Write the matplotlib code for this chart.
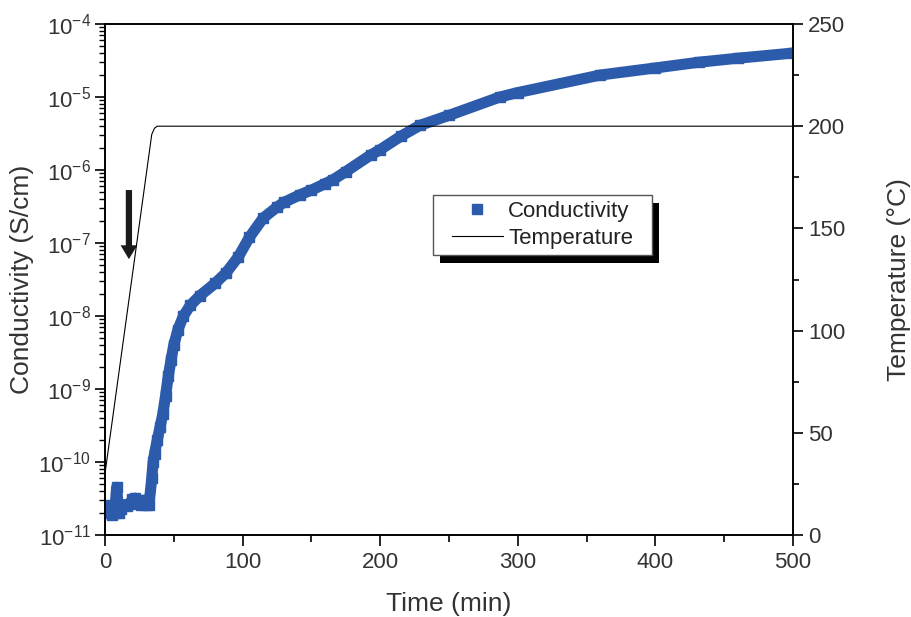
import matplotlib
matplotlib.use("Agg")
import matplotlib.pyplot as plt
from matplotlib.lines import Line2D
from matplotlib.patches import Rectangle
from matplotlib.ticker import LogLocator, MultipleLocator, NullFormatter

# conductivity (min, S/cm)
cond_time = [0, 1, 2, 3, 4, 5, 6, 7, 8.5, 10, 12, 14, 16, 18, 20, 22, 24,
             26, 28, 30, 32, 34, 35, 36, 38, 40, 42, 44, 46, 48, 50, 53, 57,
             62, 69, 80, 88, 97, 105, 115, 125, 130, 142, 150, 160, 166,
             175, 193, 200, 215, 229, 250, 287, 300, 360, 400, 432, 460, 500]
cond_value = [2.6e-11, 2.3e-11, 2.1e-11, 2.5e-11, 2.0e-11, 1.9e-11, 2.4e-11,
              2.0e-11, 4.5e-11, 2.0e-11, 2.3e-11, 2.6e-11, 2.5e-11, 2.7e-11,
              3.1e-11, 3.2e-11, 2.9e-11, 2.6e-11, 3.0e-11, 2.6e-11, 2.6e-11,
              6e-11, 1.0e-10, 1.3e-10, 2.0e-10, 3.0e-10, 4.5e-10, 8e-10,
              1.5e-9, 2.5e-9, 4e-9, 6.5e-9, 1.0e-8, 1.4e-8, 1.9e-8, 2.8e-8,
              3.9e-8, 6.5e-8, 1.2e-7, 2.2e-7, 3.1e-7, 3.6e-7, 4.6e-7, 5.3e-7,
              6.5e-7, 7.4e-7, 9.5e-7, 1.6e-6, 1.9e-6, 2.9e-6, 4.1e-6, 5.6e-6,
              1.0e-5, 1.15e-5, 2.0e-5, 2.5e-5, 3.0e-5, 3.4e-5, 4.0e-5]

# temperature program (min, degC)
temp_time = [0, 34, 36, 38, 500]
temp_value = [30, 196, 199, 200, 200]

blue = '#2d5bab'
grey = '#333333'

plt.rcParams.update({
    'font.family': 'Liberation Sans',
    'mathtext.fontset': 'custom',
    'mathtext.rm': 'Liberation Sans',
    'mathtext.it': 'Liberation Sans',
    'axes.linewidth': 1.2,
})

fig = plt.figure(figsize=(9.12, 6.17), dpi=100)
ax = fig.add_axes([0.1151, 0.1329, 0.7544, 0.8282])
ax2 = ax.twinx()

ax.plot(cond_time, cond_value, color=blue, lw=8, solid_capstyle='butt',
        solid_joinstyle='round', zorder=2)
ax.plot(cond_time, cond_value, ls='none', marker='s', ms=7, color=blue, zorder=3)
ax.set_yscale('log')
ax.set_ylim(1e-11, 1e-4)
ax.set_xlim(0, 500)

ax2.plot(temp_time, temp_value, color='black', lw=0.8)
ax2.set_ylim(0, 250)

# arrow marking the start of the heating
ax.annotate('', xy=(17.4, 5.5e-8), xytext=(17.4, 5.8e-7),
            arrowprops=dict(arrowstyle='simple,head_length=1.0,head_width=1.2,tail_width=0.45',
                            color='#1a1a1a', lw=0))

ax.xaxis.set_major_locator(MultipleLocator(100))
ax.xaxis.set_minor_locator(MultipleLocator(50))
ax.yaxis.set_major_locator(LogLocator(base=10, numticks=20))
ax.yaxis.set_minor_locator(LogLocator(base=10, subs=range(2, 10), numticks=20))
ax.yaxis.set_minor_formatter(NullFormatter())
ax2.yaxis.set_major_locator(MultipleLocator(50))
ax2.yaxis.set_minor_locator(MultipleLocator(25))

ax.tick_params(axis='x', which='major', direction='out', length=8, width=1.2,
               labelsize=16, pad=4, labelcolor=grey)
ax.tick_params(axis='x', which='minor', direction='out', length=5, width=1.2)
ax.tick_params(axis='y', which='major', direction='out', length=7, width=1.2,
               labelsize=16, pad=3, labelcolor=grey)
ax.tick_params(axis='y', which='minor', direction='out', length=4, width=1.0)
ax.tick_params(axis='y', which='both', right=False)
ax2.tick_params(axis='y', which='major', direction='out', length=7, width=1.2,
                labelsize=16, pad=4, labelcolor=grey)
ax2.tick_params(axis='y', which='minor', direction='out', length=4, width=1.2)

# inward ticks on the top edge, drawn by the twin's x axis
ax2.tick_params(axis='x', which='both', bottom=False, labelbottom=False,
                top=True, labeltop=False, direction='in', width=1.2)
ax2.tick_params(axis='x', which='major', length=7)
ax2.tick_params(axis='x', which='minor', length=4)

ax.set_xlabel('Time (min)', fontsize=19, color=grey, labelpad=14)
ax.set_ylabel('Conductivity (S/cm)', fontsize=19, color=grey, labelpad=3)
ax2.set_ylabel('Temperature (°C)', fontsize=19, color=grey, labelpad=30)

# legend box with a solid drop shadow (axes fractions)
box_x0, box_x1 = 0.4767, 0.795
box_y0, box_y1 = 0.548, 0.6654
sx = 7 / (0.7544 * 912)
sy = 8 / (0.8282 * 617)
ax2.add_patch(Rectangle((box_x0 + sx, box_y0 - sy), box_x1 - box_x0, box_y1 - box_y0,
                        transform=ax2.transAxes, facecolor='black', edgecolor='none',
                        zorder=5, clip_on=False))
ax2.add_patch(Rectangle((box_x0, box_y0), box_x1 - box_x0, box_y1 - box_y0,
                        transform=ax2.transAxes, facecolor='white', edgecolor='#555555',
                        lw=1.0, zorder=5.1, clip_on=False))

handles = [
    Line2D([], [], ls='none', marker='s', ms=7, color=blue, label='Conductivity'),
    Line2D([], [], color='black', lw=0.8, label='Temperature'),
]
leg = ax2.legend(handles=handles, loc='center',
                 bbox_to_anchor=((box_x0 + box_x1) / 2, (box_y0 + box_y1) / 2),
                 borderaxespad=0, fontsize=16, frameon=False, handlelength=2.3,
                 handletextpad=0.25, labelspacing=0.25, borderpad=0)
leg.set_zorder(6)
for txt in leg.get_texts():
    txt.set_color('#222222')

fig.savefig('out.png', dpi=100)
